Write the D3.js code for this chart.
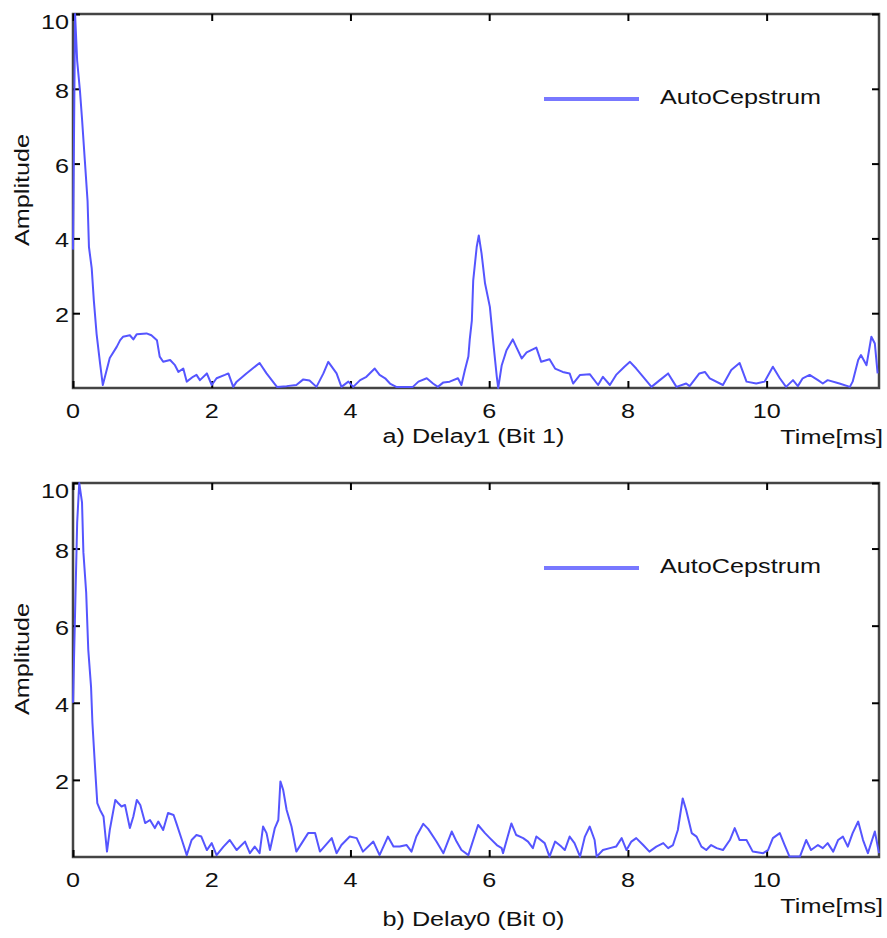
<!DOCTYPE html>
<html>
<head>
<meta charset="utf-8">
<script src="https://cdn.jsdelivr.net/npm/d3@7"></script>
<style>
  body { margin: 0; background: #fff; }
  text { font-family: "Liberation Sans", Arial, sans-serif; fill: #111; }
</style>
</head>
<body>
<svg id="chart" width="887" height="938"></svg>
<script>
// panel a) Delay1 (Bit 1): time in ms, amplitude
var timeA = [0,0.03,0.06,0.10,0.13,0.17,0.21,0.23,0.27,0.30,
             0.34,0.39,0.43,0.53,0.63,0.68,0.72,0.82,0.87,0.92,
             1.06,1.13,1.21,1.25,1.30,1.40,1.47,1.52,1.59,1.64,
             1.73,1.78,1.83,1.93,2.00,2.07,2.19,2.24,2.31,2.36,
             2.50,2.69,2.79,2.94,3.08,3.22,3.32,3.41,3.51,3.61,
             3.68,3.73,3.80,3.87,3.97,4.04,4.14,4.23,4.35,4.42,
             4.50,4.57,4.66,4.90,4.98,5.10,5.19,5.26,5.34,5.43,
             5.55,5.60,5.65,5.70,5.72,5.75,5.77,5.82,5.85,5.89,
             5.94,6.01,6.06,6.11,6.13,6.18,6.25,6.34,6.39,6.47,
             6.54,6.68,6.75,6.87,6.95,7.06,7.16,7.21,7.31,7.45,
             7.57,7.64,7.74,7.83,7.95,8.03,8.12,8.22,8.34,8.46,
             8.58,8.70,8.84,8.89,9.03,9.11,9.18,9.37,9.49,9.61,
             9.71,9.85,9.97,10.09,10.19,10.28,10.38,10.45,10.52,10.62,
             10.74,10.81,10.88,11.05,11.20,11.24,11.32,11.36,11.44,11.51,
             11.56,11.60];
var ampA  = [3.7,10,8.75,7.95,7.2,6.1,5.0,3.77,3.2,2.35,
             1.45,0.66,0.08,0.8,1.1,1.28,1.37,1.41,1.3,1.44,
             1.46,1.41,1.28,0.84,0.7,0.75,0.61,0.43,0.52,0.17,
             0.3,0.35,0.21,0.39,0.08,0.26,0.35,0.39,0.03,0.17,
             0.39,0.67,0.39,0.03,0.05,0.08,0.23,0.2,0.03,0.39,
             0.7,0.57,0.39,0.03,0.17,0.03,0.21,0.3,0.52,0.35,
             0.26,0.12,0.03,0.03,0.17,0.26,0.12,0.03,0.15,0.17,
             0.26,0.08,0.48,0.84,1.3,1.8,2.88,3.77,4.08,3.6,
             2.8,2.17,1.2,0.3,0.0,0.6,1.01,1.3,1.1,0.79,
             0.95,1.08,0.7,0.77,0.52,0.43,0.39,0.12,0.35,0.37,
             0.08,0.3,0.08,0.35,0.57,0.7,0.52,0.3,0.03,0.21,
             0.39,0.03,0.12,0.05,0.39,0.43,0.26,0.08,0.48,0.67,
             0.17,0.12,0.17,0.57,0.26,0.03,0.21,0.05,0.26,0.35,
             0.21,0.12,0.21,0.12,0.03,0.17,0.75,0.88,0.61,1.37,
             1.19,0.39];

// panel b) Delay0 (Bit 0)
var timeB = [0,0.06,0.09,0.13,0.15,0.19,0.22,0.26,0.28,0.32,
             0.35,0.39,0.44,0.49,0.53,0.61,0.65,0.70,0.75,0.82,
             0.87,0.92,0.97,1.04,1.11,1.18,1.23,1.30,1.37,1.45,
             1.49,1.57,1.64,1.71,1.78,1.85,1.93,2.00,2.07,2.17,
             2.26,2.36,2.48,2.55,2.62,2.69,2.74,2.79,2.84,2.91,
             2.96,2.99,3.03,3.08,3.15,3.22,3.39,3.49,3.56,3.73,
             3.80,3.87,3.99,4.09,4.18,4.33,4.42,4.54,4.62,4.71,
             4.81,4.88,4.95,5.05,5.12,5.24,5.34,5.46,5.53,5.60,
             5.70,5.84,5.94,6.01,6.11,6.18,6.20,6.32,6.39,6.49,
             6.56,6.63,6.68,6.80,6.87,6.95,7.04,7.09,7.16,7.23,
             7.31,7.38,7.45,7.52,7.55,7.64,7.74,7.83,7.91,7.98,
             8.05,8.12,8.22,8.31,8.41,8.51,8.58,8.65,8.72,8.79,
             8.84,8.92,8.99,9.06,9.13,9.20,9.28,9.37,9.47,9.54,
             9.61,9.71,9.80,9.95,10.02,10.09,10.19,10.26,10.33,10.48,
             10.57,10.64,10.74,10.81,10.88,10.96,11.03,11.10,11.17,11.24,
             11.32,11.39,11.46,11.56,11.62];
var ampB  = [4.0,8.67,9.7,9.2,7.9,6.86,5.38,4.42,3.48,2.26,
             1.4,1.22,1.05,0.14,0.7,1.48,1.4,1.31,1.35,0.75,
             1.05,1.48,1.35,0.88,0.96,0.75,0.92,0.7,1.14,1.09,
             0.88,0.44,0.05,0.44,0.57,0.53,0.18,0.36,0.05,0.27,
             0.44,0.18,0.4,0.1,0.27,0.1,0.79,0.62,0.18,0.75,
             0.96,1.96,1.74,1.22,0.79,0.14,0.62,0.62,0.14,0.49,
             0.1,0.31,0.53,0.49,0.14,0.4,0.05,0.53,0.27,0.27,
             0.31,0.14,0.53,0.86,0.73,0.4,0.1,0.66,0.4,0.18,
             0.05,0.83,0.62,0.49,0.31,0.23,0.1,0.87,0.57,0.49,
             0.4,0.23,0.53,0.36,0.01,0.4,0.27,0.18,0.53,0.36,
             0.01,0.53,0.79,0.44,0.01,0.18,0.23,0.27,0.49,0.18,
             0.4,0.49,0.31,0.14,0.27,0.36,0.23,0.31,0.7,1.52,
             1.22,0.62,0.53,0.27,0.18,0.31,0.23,0.18,0.44,0.75,
             0.44,0.44,0.14,0.1,0.18,0.49,0.62,0.31,0.01,0.01,
             0.44,0.18,0.31,0.23,0.36,0.14,0.44,0.53,0.27,0.62,
             0.92,0.44,0.1,0.66,0.1];

var xTicks = [0, 2, 4, 6, 8, 10];
var yTicks = [2, 4, 6, 8, 10];
var seriesName = "AutoCepstrum";
var captions = ["a) Delay1 (Bit 1)", "b) Delay0 (Bit 0)"];
var xTitle = "Time[ms]", yTitle = "Amplitude";

var svg = d3.select("#chart");
svg.append("rect").attr("width", 887).attr("height", 938).attr("fill", "#fff");

var left = 73, right = 879,
    fontSize = 21, stretch = 1.2,
    lineColor = "#5555ff";

var x = d3.scaleLinear().domain([0, 11.62]).range([left, right]);

// text in this figure is drawn wide, so stretch it along its own x axis
function label(g, px, py, str, anchor, rot) {
  return g.append("text")
    .attr("transform", "translate(" + px + "," + py + ")" +
          (rot ? " rotate(" + rot + ")" : "") + " scale(" + stretch + ",1)")
    .attr("text-anchor", anchor)
    .style("font-size", fontSize + "px")
    .text(str);
}

function ticksOnly(sel) {
  sel.select(".domain").remove();
  sel.selectAll(".tick line").attr("stroke", "#000").attr("stroke-width", 2);
}

function drawPanel(p) {
  var g = svg.append("g");
  var y = d3.scaleLinear().domain([0, p.yMax]).range([p.bottom, p.top]).clamp(true);

  g.append("rect")
    .attr("x", left).attr("y", p.top)
    .attr("width", right - left).attr("height", p.bottom - p.top)
    .attr("fill", "none").attr("stroke", "#444").attr("stroke-width", 2.5);

  // inward ticks on all four sides
  g.append("g").attr("transform", "translate(0," + p.bottom + ")")
    .call(d3.axisBottom(x).tickValues(xTicks).tickSize(-7).tickFormat("")).call(ticksOnly);
  g.append("g").attr("transform", "translate(0," + p.top + ")")
    .call(d3.axisTop(x).tickValues(xTicks).tickSize(-7).tickFormat("")).call(ticksOnly);
  g.append("g").attr("transform", "translate(" + left + ",0)")
    .call(d3.axisLeft(y).tickValues(yTicks).tickSize(-7).tickFormat("")).call(ticksOnly);
  g.append("g").attr("transform", "translate(" + right + ",0)")
    .call(d3.axisRight(y).tickValues(yTicks).tickSize(-7).tickFormat("")).call(ticksOnly);

  xTicks.forEach(function(t) {
    label(g, x(t), p.bottom + 30, t, "middle");
  });
  yTicks.forEach(function(v) {
    label(g, 69, y(v) + 7.5 + (v == 10 ? 7 : 1.5), v, "end");
  });

  label(g, 28.5, p.top + 176, yTitle, "middle", -90);
  label(g, 883, p.bottom + 56, xTitle, "end");
  label(g, 473.5, p.bottom + p.captionDy, p.caption, "middle");

  var pts = p.times.map(function(t, i) { return [t, p.amps[i]]; });
  var line = d3.line()
    .x(function(d) { return x(d[0]); })
    .y(function(d) { return y(d[1]); });

  g.append("path")
    .attr("d", line(pts))
    .attr("fill", "none")
    .attr("stroke", lineColor)
    .attr("stroke-width", 2)
    .attr("stroke-linejoin", "round");

  // legend
  g.append("line")
    .attr("x1", 544).attr("x2", 639)
    .attr("y1", p.top + 85).attr("y2", p.top + 85)
    .attr("stroke", "#7878ff").attr("stroke-width", 4);
  label(g, 660, p.top + 90, seriesName, "start");
}

drawPanel({top: 14, bottom: 388, yMax: 10, times: timeA, amps: ampA,
           caption: captions[0], captionDy: 55});
drawPanel({top: 483, bottom: 857, yMax: 9.7, times: timeB, amps: ampB,
           caption: captions[1], captionDy: 69});
</script>
</body>
</html>
